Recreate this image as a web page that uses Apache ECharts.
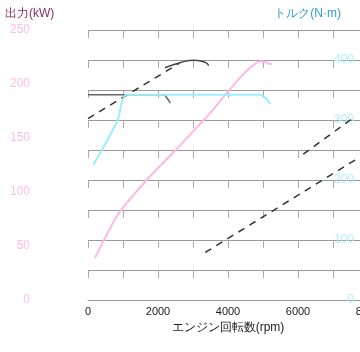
<!DOCTYPE html>
<html>
<head>
<meta charset="utf-8">
<script src="https://cdn.jsdelivr.net/npm/echarts@6/dist/echarts.min.js"></script>
<style>
html, body { margin: 0; padding: 0; background: #fff; }
#main { width: 360px; height: 352px; }
</style>
</head>
<body>
<div id="main"></div>
<script>
// 出力 (kW) と トルク (N·m)
var powerCurve = [[200, 39], [850, 79], [1700, 112], [2450, 137], [3350, 168], [4950, 221], [5250, 218]];
var torqueCurve = [[150, 225], [850, 300], [950, 325], [1100, 342], [4900, 342], [5100, 335], [5200, 327]];
var torqueGhost = [[0, 342], [2150, 342], [2300, 333], [2350, 328]];
var powerGhostArc = [[2200, 215], [2650, 220], [3050, 222], [3350, 220], [3450, 217]];
var powerDashA = [[0, 168], [2600, 219]];
var powerDashB = [[3350, 44], [7700, 131]];
var powerDashC = [[6150, 135], [7550, 168]];

var myChart = echarts.init(document.getElementById('main'));

option = {
	backgroundColor: '#fff',
	animation: false,
	title: [
		{ text: '出力(kW)', left: 0, top: 3, textStyle: { fontSize: 12, fontWeight: 'normal', color: '#8a2d63' } },
		{ text: 'トルク(N·m)', right: 14, top: 3, textStyle: { fontSize: 12, fontWeight: 'normal', color: '#2f9fc8' } }
	],
	grid: { left: 88, right: -8, top: 30, bottom: 52, containLabel: false, outerBoundsMode: 'none' },
	xAxis: {
		type: 'value',
		min: 0,
		max: 8000,
		interval: 1000,
		name: 'エンジン回転数(rpm)',
		nameLocation: 'middle',
		nameGap: 22,
		nameTextStyle: { fontSize: 12, color: '#222' },
		axisLine: { lineStyle: { color: '#999' } },
		axisTick: { show: false },
		axisLabel: {
			fontSize: 11, color: '#222', margin: 6,
			formatter: function (v) { return v % 2000 === 0 ? String(v) : ''; }
		},
		splitLine: { show: true, lineStyle: { color: '#aaa', type: [8, 22], dashOffset: 0 } }
	},
	yAxis: [
		{
			type: 'value',
			min: 0,
			max: 250,
			interval: 50,
			position: 'left',
			axisLine: { show: false },
			axisTick: { show: false },
			axisLabel: { fontSize: 12, color: '#ffbde6', margin: 58 },
			splitLine: { show: false }
		},
		{
			type: 'value',
			min: 0,
			max: 450,
			interval: 50,
			position: 'right',
			axisLine: { show: false },
			axisTick: { show: false },
			axisLabel: {
				inside: true, margin: 14, fontSize: 12, color: '#b4eefc',
				showMaxLabel: false,
				formatter: function (v) { return v % 100 === 0 ? String(v) : ''; }
			},
			splitLine: { show: true, lineStyle: { color: '#999', width: 1, type: 'solid' } }
		}
	],
	series: [
		{
			name: 'ghost torque', type: 'line', yAxisIndex: 1, data: torqueGhost,
			showSymbol: false, smooth: 0.3, lineStyle: { color: '#666', width: 1.5 }
		},
		{
			name: 'ghost arc', type: 'line', yAxisIndex: 0, data: powerGhostArc,
			showSymbol: false, smooth: 0.5, lineStyle: { color: '#444', width: 1.5 }
		},
		{
			name: 'dash A', type: 'line', yAxisIndex: 0, data: powerDashA,
			showSymbol: false, lineStyle: { color: '#333', width: 1.5, type: [7, 6] }
		},
		{
			name: 'dash B', type: 'line', yAxisIndex: 0, data: powerDashB,
			showSymbol: false, lineStyle: { color: '#333', width: 1.5, type: [7, 6] }
		},
		{
			name: 'dash C', type: 'line', yAxisIndex: 0, data: powerDashC,
			showSymbol: false, lineStyle: { color: '#333', width: 1.5, type: [7, 6] }
		},
		{
			name: '出力', type: 'line', yAxisIndex: 0, data: powerCurve,
			showSymbol: false, smooth: 0.2, lineStyle: { color: '#ffb8e4', width: 2 }
		},
		{
			name: 'トルク', type: 'line', yAxisIndex: 1, data: torqueCurve,
			showSymbol: false, smooth: 0.3, lineStyle: { color: '#9aeeff', width: 2 }
		}
	]
};

myChart.setOption(option);
</script>
</body>
</html>
